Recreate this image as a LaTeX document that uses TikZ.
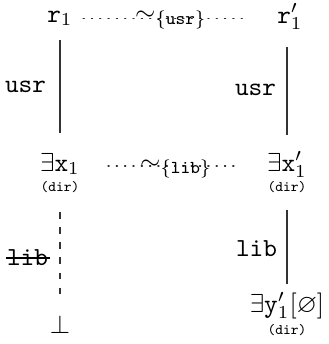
\documentclass[tikz,border=0pt]{standalone}
\usepackage{amssymb}
\usetikzlibrary{calc}
\begin{document}
\begin{tikzpicture}[x=0.3846pt,y=-0.3846pt,
  every node/.style={inner sep=0pt, outer sep=0pt},
  lbl/.style={anchor=base},
  conn/.style={line width=0.4pt, draw=black!80},
  dotline/.style={line width=0.45pt, draw=black!80, dash pattern=on 0.45pt off 2.75pt, line cap=round},
  dashline/.style={line width=0.4pt, draw=black!80, dash pattern=on 2.6pt off 3.2pt},
  dirtag/.style={anchor=base, font=\fontsize{5.6}{6}\selectfont\ttfamily},
  elabel/.style={anchor=base east, font=\ttfamily}]
\useasboundingbox (0,0) rectangle (329,344);
% nodes
\node[lbl] (r1) at (60,22) {$\mathtt{r}_1$};
\node[lbl] (r1p) at (290,23) {$\mathtt{r}'_1$};
\node[lbl] (ex1) at (60,171) {$\exists\mathtt{x}_1$};
\node[dirtag] (d1) at (60,191) {(dir)};
\node[lbl] (ex1p) at (287,171) {$\exists\mathtt{x}'_1$};
\node[dirtag] (d1p) at (287,191) {(dir)};
\node[lbl] (bot) at (60,333) {$\bot$};
\node[lbl] (ey1p) at (287,312) {$\exists\mathtt{y}'_1[\varnothing]$};
\node[dirtag] (d2p) at (287,334) {(dir)};
% horizontal relations
\draw[dotline, shorten <=4pt, shorten >=11.7pt] (r1.east) -- (r1.east -| r1p.west);
\node[anchor=base] (s1) at (171,20) {$\sim_{\{\mathtt{usr}\}}$};
\draw[dotline, shorten <=10.8pt, shorten >=11.5pt] ([yshift=-0.8pt]ex1.east) -- ([yshift=-0.8pt]ex1.east -| ex1p.west);
\node[anchor=base] (s2) at (176,169) {$\sim_{\{\mathtt{lib}\}}$};
% vertical connectors
\draw[conn, shorten <=5.4pt, shorten >=7.7pt] (ex1.north |- r1.south) -- (ex1.north);
\draw[conn, shorten <=6.7pt, shorten >=6.3pt] (ex1p.north |- r1p.south) -- (ex1p.north);
\draw[dashline, shorten <=7.7pt, shorten >=6.9pt] (d1.south) -- (d1.south |- bot.north);
\draw[conn, shorten <=6.9pt, shorten >=3.2pt] (d1p.south) -- (d1p.south |- ey1p.north);
% edge labels
\node[elabel] (u1) at (46,92) {usr};
\node[elabel] (u2) at (276,95) {usr};
\node[elabel] (l1) at (48,265) {lib};
\draw[line width=0.4pt] ([xshift=-0.3pt,yshift=2.7pt]l1.base west) -- ([xshift=0.6pt,yshift=2.7pt]l1.base east);
\node[elabel] (l2) at (277,256) {lib};
\end{tikzpicture}
\end{document}
